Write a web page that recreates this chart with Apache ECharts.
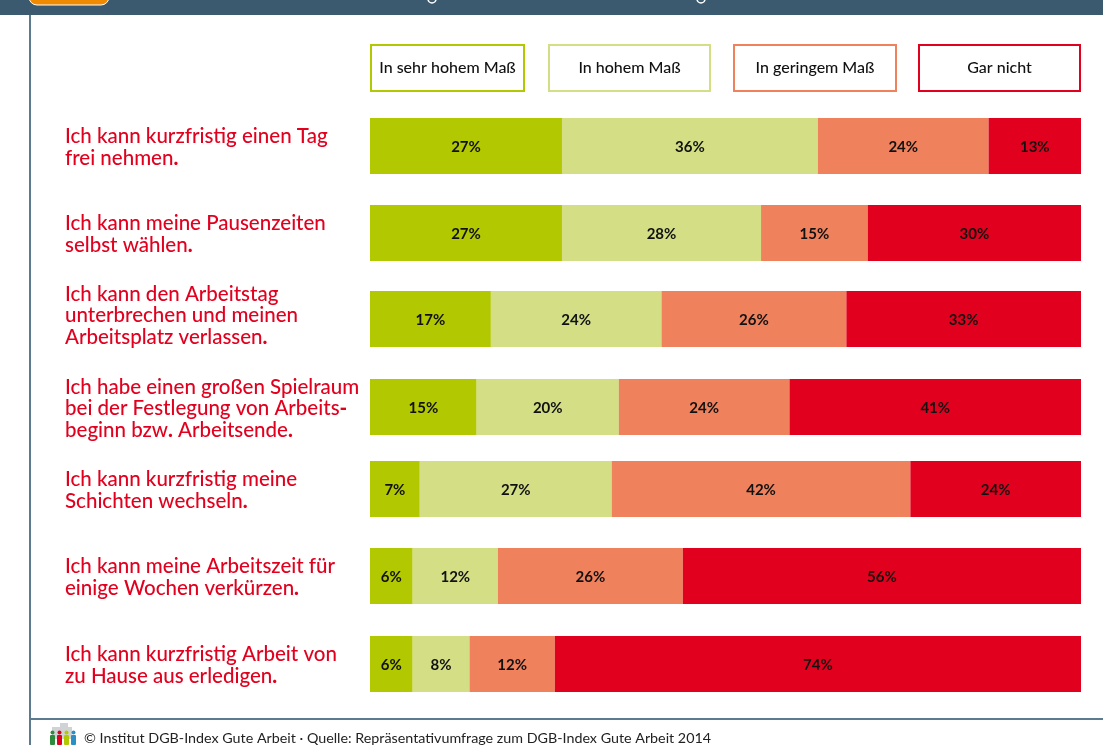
<!DOCTYPE html>
<html lang="de">
<head>
<meta charset="utf-8">
<title>Arbeitszeit</title>
<style>html,body{margin:0;padding:0;background:#fff}#chart{width:1103px;height:745px}</style>
<script src="https://cdn.jsdelivr.net/npm/echarts@6/dist/echarts.min.js"></script>
</head>
<body>
<div id="chart"></div>
<script>
const statements = [
  'Ich kann kurzfristig einen Tag\nfrei nehmen.',
  'Ich kann meine Pausenzeiten\nselbst wählen.',
  'Ich kann den Arbeitstag\nunterbrechen und meinen\nArbeitsplatz verlassen.',
  'Ich habe einen großen Spielraum\nbei der Festlegung von Arbeits-\nbeginn bzw. Arbeitsende.',
  'Ich kann kurzfristig meine\nSchichten wechseln.',
  'Ich kann meine Arbeitszeit für\neinige Wochen verkürzen.',
  'Ich kann kurzfristig Arbeit von\nzu Hause aus erledigen.'
];
const answers = ['In sehr hohem Maß', 'In hohem Maß', 'In geringem Maß', 'Gar nicht'];
const sehrHoch = [27, 27, 17, 15, 7, 6, 6];
const hoch = [36, 28, 24, 20, 27, 12, 8];
const gering = [24, 15, 26, 24, 42, 26, 12];
const garNicht = [13, 30, 33, 41, 24, 56, 74];
const footnote = '© Institut DGB-Index Gute Arbeit · Quelle: Repräsentativumfrage zum DGB-Index Gute Arbeit 2014';

const shares = [sehrHoch, hoch, gering, garNicht];
const colors = ['#b2c800', '#d3de85', '#ef825d', '#e2001f'];
const rowTops = [118, 205, 291, 379, 461, 548, 636];
const legendBoxes = [[371, 154], [549, 162], [734, 163], [919, 162]];
const FONT = 'Lato, "Open Sans", sans-serif';

// Each statement has its own grid, since the rows are not evenly spaced.
const grid = rowTops.map(top => ({ left: 370, width: 711, top, height: 56 }));
const xAxis = rowTops.map((_, i) => ({
  gridIndex: i, type: 'value', min: 0, max: 100, show: false
}));

// Statement text as rich tokens: full stops and hyphens are set heavier,
// and a thin spacer line nudges the block up or down against its bar.
const statementRich = (text, i) => {
  const lines = text.split('\n').map(line => {
    return line.split(/([.\-])/).filter(Boolean)
      .map(part => (/^[.\-]$/.test(part) ? '{b|' + part + '}' : '{s|' + part + '}')).join('');
  });
  return i === 2 ? lines.join('\n') + '\n{gap| }' : '{top|  }\n' + lines.join('\n');
};
const statementStyle = { fontFamily: FONT, fontSize: 20.5, fontWeight: 500, lineHeight: 21.5, color: '#e2001f' };
const yAxis = statements.map((text, i) => ({
  gridIndex: i, type: 'category', data: [text],
  axisLine: { show: false }, axisTick: { show: false },
  axisLabel: {
    align: 'left', margin: 305,
    formatter: value => statementRich(value, i),
    rich: {
      s: statementStyle,
      b: { ...statementStyle, fontWeight: 900 },
      gap: { fontSize: 4, lineHeight: 7 },
      top: { fontSize: 2, lineHeight: 3 }
    }
  }
}));
const series = [];
statements.forEach((_, row) => {
  answers.forEach((name, k) => {
    series.push({
      type: 'bar', name, stack: 'row' + row, barWidth: 56,
      xAxisIndex: row, yAxisIndex: row,
      itemStyle: { color: colors[k] },
      label: {
        show: true, position: 'inside', formatter: '{c}%', color: '#111', offset: [0, 1],
        fontFamily: FONT, fontSize: 15, fontWeight: 'bold'
      },
      data: [shares[k][row]]
    });
  });
});
// One legend per answer, each framed in that answer's colour with centred text.
const legend = answers.map((name, k) => ({
  data: [{ name, icon: 'none' }], left: legendBoxes[k][0], top: 45,
  padding: 0, itemWidth: 0, itemHeight: 0, selectedMode: false,
  borderColor: colors[k], borderWidth: 2, backgroundColor: '#fff',
  formatter: n => '{t|' + n + '}',
  textStyle: {
    rich: {
      t: {
        width: legendBoxes[k][1] - 11, height: 46, lineHeight: 46, align: 'center',
        padding: [0, 5, 0, 0],
        color: '#111', fontFamily: FONT, fontSize: 16, fontWeight: 500
      }
    }
  }
}));
const frame = '#3b5a6f';
const figure = (x, fill) => [
  { type: 'circle', shape: { cx: x + 2.5, cy: 732.5, r: 2 }, style: { fill } },
  { type: 'rect', shape: { x, y: 735, width: 5, height: 10, r: 1 }, style: { fill } }
];
const graphic = [
  { type: 'rect', shape: { x: 0, y: 0, width: 1103, height: 15 }, style: { fill: frame } },
  { type: 'rect', shape: { x: 29, y: -12, width: 80, height: 17, r: 8 }, style: { fill: '#f08a00', stroke: '#fff', lineWidth: 1 } },
  { type: 'arc', shape: { cx: 432, cy: -1, r: 4, startAngle: 0, endAngle: Math.PI }, style: { stroke: '#fff', fill: null, lineWidth: 1.5 } },
  { type: 'arc', shape: { cx: 701, cy: -1, r: 4, startAngle: 0, endAngle: Math.PI }, style: { stroke: '#fff', fill: null, lineWidth: 1.5 } },
  { type: 'rect', shape: { x: 29, y: 15, width: 2, height: 730 }, style: { fill: '#5d7b8e' } },
  { type: 'rect', shape: { x: 31, y: 718, width: 1072, height: 2 }, style: { fill: '#5d7b8e' } },
  { type: 'rect', shape: { x: 52, y: 727, width: 20, height: 12 }, style: { fill: '#cfd3d6' } },
  { type: 'rect', shape: { x: 60, y: 723, width: 8, height: 6 }, style: { fill: '#cfd3d6' } },
  ...figure(50, '#2e8b3d'), ...figure(57, '#e2001f'), ...figure(64, '#b2c800'), ...figure(71, '#2a8fc4'),
  { type: 'text', style: { x: 84, y: 731, text: footnote, fill: '#222', font: '14.3px ' + FONT } }
];
const chart = echarts.init(document.getElementById('chart'), null, { renderer: 'canvas' });
chart.setOption({ animation: false, backgroundColor: '#fff', grid, xAxis, yAxis, series, legend, graphic });
</script>
</body>
</html>
